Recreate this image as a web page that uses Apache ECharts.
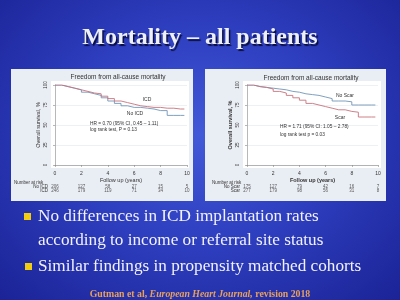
<!DOCTYPE html>
<html>
<head>
<meta charset="utf-8">
<script src="https://cdn.jsdelivr.net/npm/echarts@6/dist/echarts.min.js"></script>
<style>
html, body { margin: 0; padding: 0; }
#main {
    width: 400px; height: 300px;
    background: radial-gradient(ellipse at 50% 45%, #4259d8 0%, #2e3fc0 45%, #1b2396 100%);
}
</style>
</head>
<body>
<div id="main"></div>
<script>
// follow up time (years) shared by all KM curves
var followUp = [0, 0.5, 1, 1.5, 2, 2.5, 3, 3.5, 4, 4.5, 5, 5.5, 6, 6.5, 7, 7.5, 8, 8.5, 9, 9.5, 9.8];

// left panel: ICD vs No ICD (overall survival, %)
var icdSurv   = [100, 98, 96, 94, 92, 90, 89, 86, 83, 80, 78, 76, 74, 73, 72, 72, 71, 71, 70, 70, 70];
var noIcdSurv = [100, 98, 96, 94, 91, 89, 87, 84, 80, 77, 74, 72, 72, 71, 70, 68, 68, 62, 62, 62, 62];

// right panel: No Scar vs Scar
var noScarSurv = [100, 98, 97, 96, 95, 94, 92, 91, 89, 88, 87, 85, 83, 80, 80, 79, 75, 75, 75, 75, 75];
var scarSurv   = [100, 98, 97, 95, 92, 90, 87, 84, 81, 77, 75, 73, 71, 69, 69, 67, 66, 60, 60, 60, 60];

// number at risk tables
var riskYears   = [0, 2, 4, 6, 8, 10];
var noIcdRisk   = [206, 127, 58, 27, 15, 5];
var icdRisk     = [246, 179, 119, 71, 34, 10];
var noScarRisk  = [175, 127, 79, 42, 16, 7];
var scarRisk    = [277, 179, 98, 56, 31, 8];

var RED = '#c8727c', BLUE = '#7095b8';
var FONT = 'Liberation Sans';
var SERIF = 'Liberation Serif';

function pairs(vals) {
    return followUp.map(function (t, i) { return [t, vals[i]]; });
}
function riskRow(name, vals) {
    return riskYears.map(function (t, i) { return [t, name, vals[i]]; });
}

function kmXAxis(grid, bold) {
    return {
        gridIndex: grid, type: 'value', min: 0, max: 10, interval: 2, offset: 3,
        name: 'Follow up (years)', nameLocation: 'middle', nameGap: 9,
        nameTextStyle: { fontSize: 5.5, color: '#333', fontFamily: FONT, fontWeight: bold ? 'bold' : 'normal' },
        axisLine: { lineStyle: { color: '#888', width: 0.6 } },
        axisTick: { length: 2, lineStyle: { color: '#888', width: 0.6 } },
        axisLabel: { fontSize: 5, color: '#333', margin: 3, fontFamily: FONT },
        splitLine: { show: false }
    };
}
function kmYAxis(grid, bold) {
    return {
        gridIndex: grid, type: 'value', min: 0, max: 100, interval: 25, offset: 4,
        name: 'Overall survival, %', nameLocation: 'middle', nameGap: 10,
        nameTextStyle: { fontSize: 5.5, color: '#333', fontFamily: FONT, fontWeight: bold ? 'bold' : 'normal' },
        axisLine: { show: true, lineStyle: { color: '#888', width: 0.6 } },
        axisTick: { show: true, length: 2, lineStyle: { color: '#888', width: 0.6 } },
        axisLabel: { fontSize: 4.5, color: '#333', rotate: 90, margin: 3, fontFamily: FONT },
        splitLine: { show: true, lineStyle: { color: '#e3e7ec', width: 0.6 } }
    };
}
function riskXAxis(grid) {
    return { gridIndex: grid, type: 'value', min: 0, max: 10, show: false };
}
function riskYAxis(grid, cats) {
    return {
        gridIndex: grid, type: 'category', data: cats,
        axisLine: { show: false }, axisTick: { show: false },
        axisLabel: { interval: 0, fontSize: 4.5, color: '#333', margin: 7, fontFamily: FONT }
    };
}
function kmLine(x, y, vals, color) {
    return {
        type: 'line', xAxisIndex: x, yAxisIndex: y, step: 'end', showSymbol: false,
        data: pairs(vals), lineStyle: { color: color, width: 0.9 }, itemStyle: { color: color },
        silent: true, animation: false
    };
}
function riskSeries(x, y, name, vals) {
    return {
        type: 'scatter', xAxisIndex: x, yAxisIndex: y, symbolSize: 1,
        itemStyle: { color: 'rgba(0,0,0,0)' }, data: riskRow(name, vals), animation: false,
        labelLayout: { hideOverlap: false },
        label: {
            show: true, position: 'inside', fontSize: 4.5, color: '#333', fontFamily: FONT,
            formatter: function (p) { return p.value[2]; }
        }
    };
}
function smallText(x, y, text, opts) {
    var st = { x: x, y: y, text: text, fill: '#333', font: '5px ' + FONT, textVerticalAlign: 'middle' };
    for (var k in opts) st[k] = opts[k];
    return { type: 'text', style: st, z: 5 };
}
function slideLine(y, text) {
    return { type: 'text', z: 5, style: { x: 38, y: y, text: text, textVerticalAlign: 'middle', font: '17.2px ' + SERIF, fill: '#f2f2f8' } };
}

var chart = echarts.init(document.getElementById('main'), null, { renderer: 'canvas' });

var option = {
    animation: false,
    grid: [
        { left: 55, top: 85, width: 132, height: 80 },
        { left: 55, top: 185, width: 132, height: 8 },
        { left: 247, top: 85, width: 131, height: 80 },
        { left: 247, top: 185, width: 131, height: 8 }
    ],
    xAxis: [kmXAxis(0, false), riskXAxis(1), kmXAxis(2, true), riskXAxis(3)],
    yAxis: [
        kmYAxis(0, false),
        riskYAxis(1, ['ICD', 'No ICD']),
        kmYAxis(2, true),
        riskYAxis(3, ['Scar', 'No Scar'])
    ],
    series: [
        kmLine(0, 0, noIcdSurv, BLUE),
        kmLine(0, 0, icdSurv, RED),
        riskSeries(1, 1, 'No ICD', noIcdRisk),
        riskSeries(1, 1, 'ICD', icdRisk),
        kmLine(2, 2, noScarSurv, BLUE),
        kmLine(2, 2, scarSurv, RED),
        riskSeries(3, 3, 'No Scar', noScarRisk),
        riskSeries(3, 3, 'Scar', scarRisk)
    ],
    graphic: [
        // panel boxes and white plot regions
        { type: 'rect', shape: { x: 11, y: 69, width: 182, height: 132 }, style: { fill: '#e9edf4' }, z: -2 },
        { type: 'rect', shape: { x: 205, y: 69, width: 181, height: 132 }, style: { fill: '#e9edf4' }, z: -2 },
        { type: 'rect', shape: { x: 51, y: 81, width: 138, height: 87 }, style: { fill: '#ffffff' }, z: -1 },
        { type: 'rect', shape: { x: 243, y: 81, width: 138, height: 87 }, style: { fill: '#ffffff' }, z: -1 },

        // panel titles
        smallText(118, 77, 'Freedom from all-cause mortality', { font: '6.5px ' + FONT, textAlign: 'center' }),
        smallText(311, 78, 'Freedom from all-cause mortality', { font: '6.5px ' + FONT, textAlign: 'center' }),

        // curve labels and stats
        smallText(147, 100, 'ICD', { textAlign: 'center' }),
        smallText(135, 114, 'No ICD', { textAlign: 'center' }),
        smallText(90, 124, 'HR = 0.70 (95% CI, 0.45 \u2013 1.11)', { font: '4.8px ' + FONT }),
        smallText(90, 130, 'log rank test, P = 0.13', { font: '4.8px ' + FONT }),
        smallText(345, 96, 'No Scar', { textAlign: 'center' }),
        smallText(340, 118, 'Scar', { textAlign: 'center' }),
        smallText(280, 127, 'HR = 1.71 (95% CI: 1.05 \u2013 2.78)', { font: '4.8px ' + FONT }),
        smallText(280, 135, 'log rank test p = 0.03', { font: '4.8px ' + FONT }),
        smallText(14, 183, 'Number at risk', { font: '4.5px ' + FONT }),
        smallText(212, 183, 'Number at risk', { font: '4.5px ' + FONT }),

        // slide title
        {
            type: 'text', z: 5,
            style: {
                x: 200, y: 38, text: 'Mortality \u2013 all patients', textAlign: 'center', textVerticalAlign: 'middle',
                font: 'bold 24px ' + SERIF, fill: '#eef0f8',
                textShadowColor: 'rgba(0,0,30,0.8)', textShadowOffsetX: 1.5, textShadowOffsetY: 1.5, textShadowBlur: 1
            }
        },
        // bullets
        { type: 'rect', shape: { x: 24, y: 213, width: 7, height: 7 }, style: { fill: '#f2cc10' }, z: 5 },
        { type: 'rect', shape: { x: 25, y: 263, width: 7, height: 7 }, style: { fill: '#f2cc10' }, z: 5 },
        slideLine(216, 'No differences in ICD implantation rates'),
        slideLine(240, 'according to income or referral site status'),
        slideLine(266, 'Similar findings in propensity matched cohorts'),
        // citation
        {
            type: 'text', z: 5,
            style: {
                x: 200, y: 294, textAlign: 'center', textVerticalAlign: 'middle',
                text: '{a|Gutman et al, }{b|European Heart Journal,}{a| revision 2018}',
                rich: {
                    a: { fontFamily: SERIF, fontSize: 9.8, fontWeight: 'bold', fill: '#e8a05a' },
                    b: { fontFamily: SERIF, fontSize: 9.8, fontWeight: 'bold', fontStyle: 'italic', fill: '#e8a05a' }
                }
            }
        }
    ]
};

chart.setOption(option);
</script>
</body>
</html>
